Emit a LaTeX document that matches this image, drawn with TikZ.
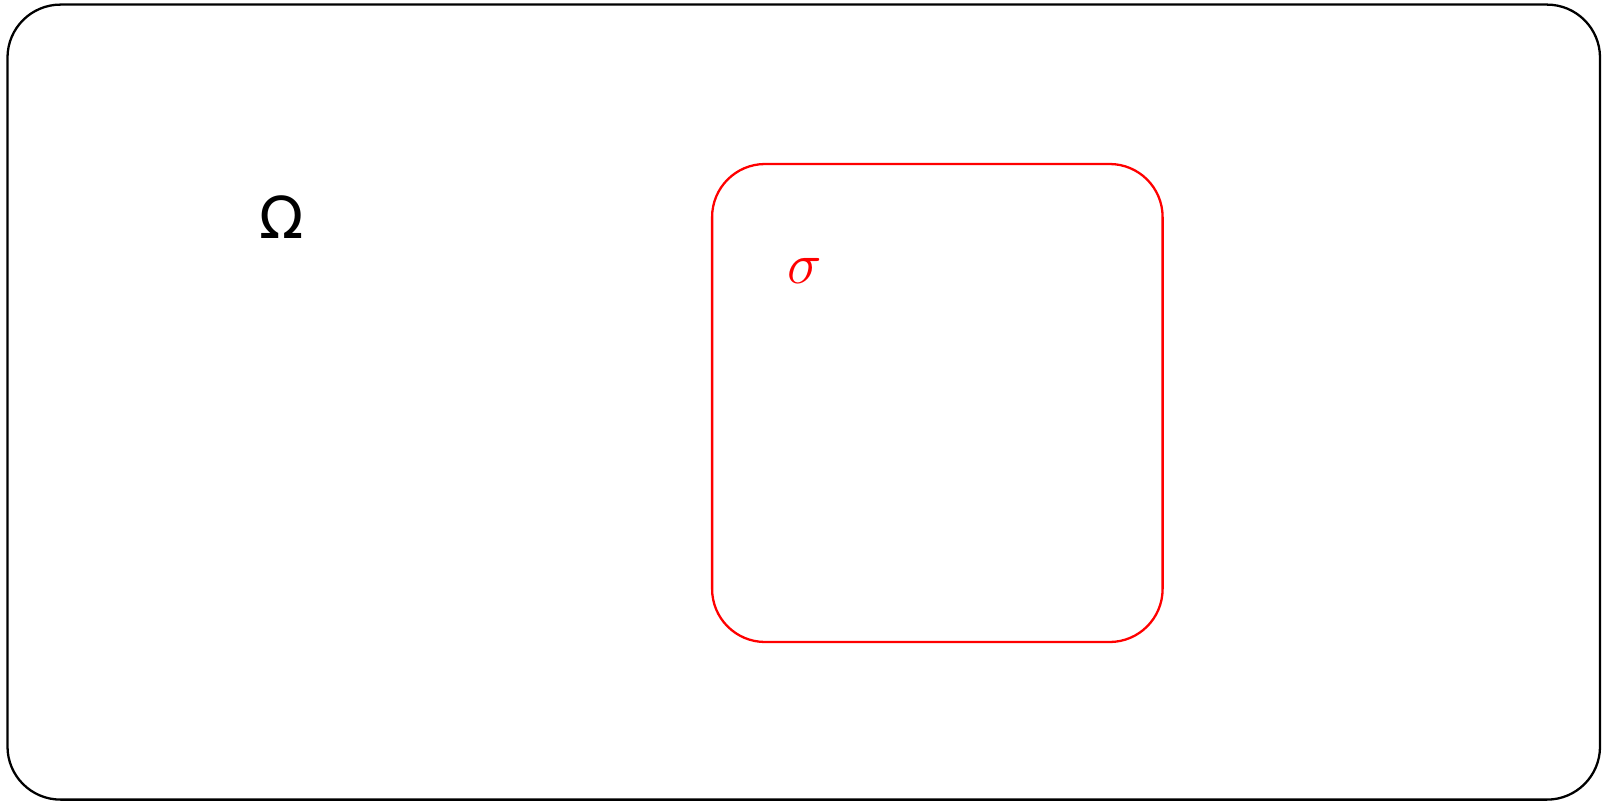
\documentclass[tikz,border=0pt]{standalone}
\usepackage{amsmath,amssymb}
\usepackage{graphicx}
\usepackage{fontspec}
\usepackage{xcolor}
\usepackage{tikz}
\usetikzlibrary{positioning,calc}
\newfontfamily\omegafont{DejaVu Sans}

\begin{document}
\begin{tikzpicture}[
		region/.style={draw, rounded corners=10.6mm, line width=1.3pt, inner sep=0pt},
		wholebox/.style={region, minimum width=318.5mm, minimum height=159mm},
		subbox/.style={region, draw=red, minimum width=90.1mm, minimum height=95.6mm},
		lbl/.style={inner sep=0pt}
		]
		\useasboundingbox (0,0) rectangle (32.24,-16.02);
		% whole domain
		\node[wholebox] (omega) at (16.075,-8.042) {};
		\node[lbl, font=\fontsize{33}{38}\omegafont] (omegalbl)
		at ($(omega.north west)+(5.5,-4.27)$) {Ω};
		% subdomain (red)
		\node[subbox] (sigma) at (18.747,-8.06) {};
		\node[lbl, text=red, font=\Huge] (sigmalbl)
		at ($(sigma.north west)+(1.87,-2.17)$) {\scalebox{1.33}{$\sigma$}};
	\end{tikzpicture}
\end{document}
